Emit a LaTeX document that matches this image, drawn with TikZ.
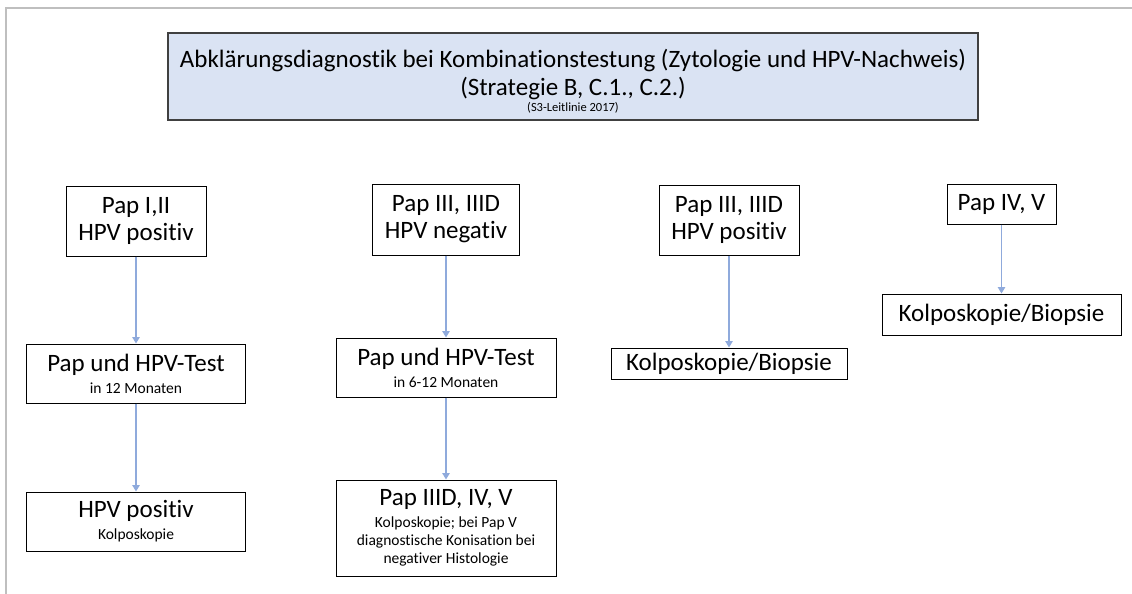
\documentclass[tikz,border=0pt]{standalone}
\usepackage{fontspec}
\setmainfont{Carlito}[Ligatures=CommonOff]
\usetikzlibrary{arrows.meta}
\definecolor{titlefill}{HTML}{DAE3F3}
\definecolor{titleline}{HTML}{404040}
\definecolor{flowline}{HTML}{8FAADC}
\definecolor{frameline}{HTML}{BFBFBF}
\newcommand{\bigtxt}{\fontsize{25}{29}\selectfont}
\newcommand{\smalltxt}{\fontsize{15.5}{18}\selectfont}
\begin{document}
\begin{tikzpicture}[x=1pt,y=-1pt,
  box/.style={draw=black,line width=1pt,fill=white,rectangle,inner sep=0pt,
    align=center,font=\bigtxt},
  titlebox/.style={draw=titleline,line width=1.5pt,fill=titlefill,rectangle,
    inner sep=0pt},
  flow/.style={draw=flowline,line width=1.2pt,
    -{Triangle[width=7.5pt,length=6.5pt]}}]
\useasboundingbox (0,0) rectangle (1132,594);
% slide frame
\draw[frameline,line width=1.5pt] (1132,8) -- (6,8) -- (6,594);

% heading
\node[titlebox,minimum width=810pt,minimum height=87pt] (title) at (573,76.5) {};
\node[align=center,font=\bigtxt,inner sep=0pt] (titletext) at (573,81)
  {Abklärungsdiagnostik bei Kombinationstestung (Zytologie und HPV-Nachweis)\\[-1pt]
   (Strategie B, C.1., C.2.)\\[-13pt]
   {\fontsize{12.5}{14}\selectfont (S3-Leitlinie 2017)}};

% column 1
\node[box,minimum width=140pt,minimum height=70pt] (a1) at (136,221)
  {Pap I,II\\[-2pt]HPV positiv};
\node[box,minimum width=219pt,minimum height=59pt] (a2) at (136,373.5)
  {Pap und HPV-Test\\[-7pt]{\smalltxt in 12 Monaten}};
\node[box,minimum width=219pt,minimum height=59pt] (a3) at (136,521.5)
  {HPV positiv\\[-7pt]{\smalltxt Kolposkopie}};

% column 2
\node[box,minimum width=147pt,minimum height=71pt] (b1) at (446,219.5)
  {Pap III, IIID\\[-2pt]HPV negativ};
\node[box,minimum width=220pt,minimum height=59pt] (b2) at (446,367.5)
  {Pap und HPV-Test\\[-7pt]{\smalltxt in 6-12 Monaten}};
\node[box,minimum width=220pt,minimum height=96pt] (b3) at (446,528)
  {Pap IIID, IV, V\\[-7pt]{\smalltxt Kolposkopie; bei Pap V}\\[-11pt]
   {\smalltxt diagnostische Konisation bei}\\[-11pt]
   {\smalltxt negativer Histologie}};

% column 3
\node[box,minimum width=140pt,minimum height=70pt] (c1) at (729,220)
  {Pap III, IIID\\[-2pt]HPV positiv};
\node[box,minimum width=236pt,minimum height=31pt] (c2) at (729,363.5)
  {Kolposkopie/Biopsie};

% column 4
\node[box,minimum width=109pt,minimum height=40pt] (d1) at (1001.5,204)
  {Pap IV, V};
\node[box,minimum width=239pt,minimum height=41pt] (d2) at (1001.5,314.5)
  {Kolposkopie/Biopsie};

% connectors
\draw[flow] (a1.south) -- (a2.north);
\draw[flow] (a2.south) -- (a3.north);
\draw[flow] (b1.south) -- (b2.north);
\draw[flow] (b2.south) -- (b3.north);
\draw[flow] (c1.south) -- (c2.north);
\draw[flow] (d1.south) -- (d2.north);
\end{tikzpicture}
\end{document}
